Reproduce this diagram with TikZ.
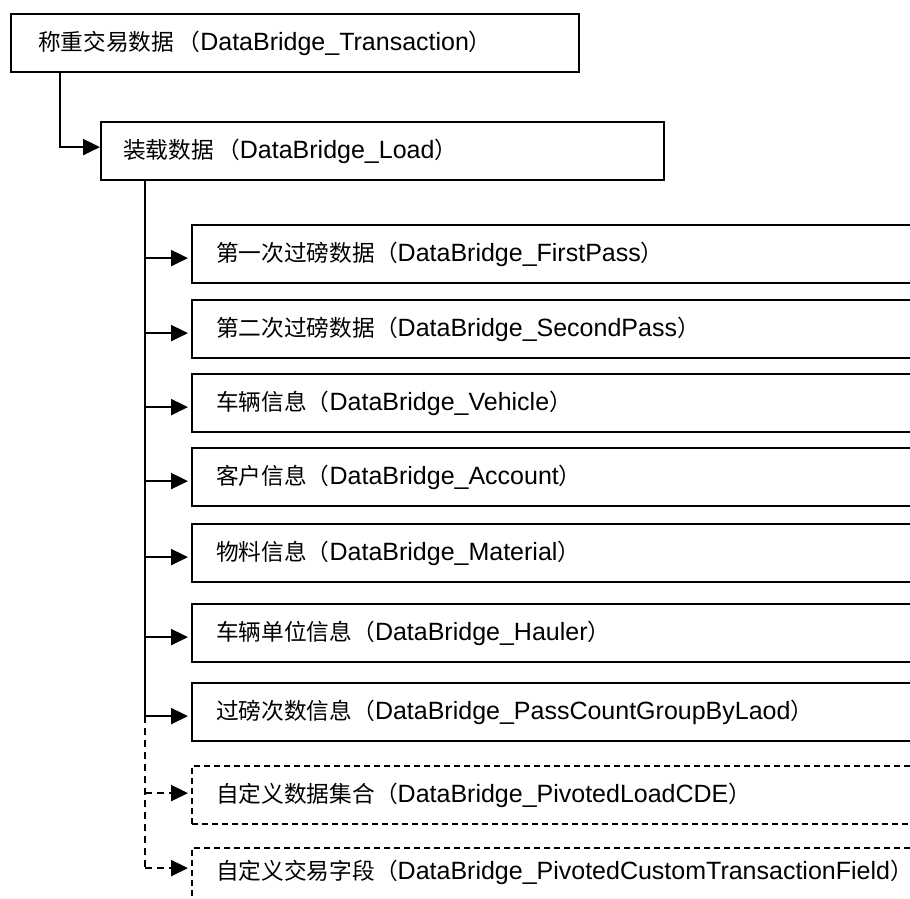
\documentclass[tikz,border=0pt]{standalone}
\usepackage{fontspec}
\setmainfont{Liberation Sans}
\newfontfamily\cjk{Noto Sans CJK SC}
\usetikzlibrary{arrows.meta}
\newcommand\lbl[3]{{\cjk\fontsize{22.7}{26}\selectfont #1}{\fontsize{25}{30}\selectfont #2}{\cjk\fontsize{22.7}{26}\selectfont #3}}
\tikzset{
  box/.style={draw, line width=2.2pt, rectangle, anchor=north west, minimum height=58pt, align=left, inner ysep=0pt},
  childbox/.style={box, text width=682pt, inner xsep=24pt},
  dbox/.style={childbox, dash pattern=on 6pt off 4pt},
  line/.style={line width=2.2pt},
  arr/.style={line, -{Triangle[length=17pt,width=16pt]}},
  darr/.style={arr, dash pattern=on 7pt off 5pt},
}
\begin{document}
\begin{tikzpicture}[x=1pt,y=-1pt]
\useasboundingbox (0,0) rectangle (910,899);
\clip (0,0) rectangle (910,899);
\fill[white] (0,0) rectangle (910,899);
\node[box, text width=514pt, inner xsep=27pt, text depth=5pt] (top) at (10,13) {\lbl{称重交易数据 （}{DataBridge\_Transaction}{）}};
\node[box, text width=519pt, inner xsep=22pt] (load) at (100,121) {\lbl{装载数据 （}{DataBridge\_Load}{）}};
\node[childbox] (c1) at (191,224) {\lbl{第一次过磅数据（}{DataBridge\_FirstPass}{）}};
\node[childbox] (c2) at (191,299) {\lbl{第二次过磅数据（}{DataBridge\_SecondPass}{）}};
\node[childbox] (c3) at (191,373) {\lbl{车辆信息（}{DataBridge\_Vehicle}{）}};
\node[childbox] (c4) at (191,447) {\lbl{客户信息（}{DataBridge\_Account}{）}};
\node[childbox] (c5) at (191,523) {\lbl{物料信息（}{DataBridge\_Material}{）}};
\node[childbox] (c6) at (191,603) {\lbl{车辆单位信息（}{DataBridge\_Hauler}{）}};
\node[childbox] (c7) at (191,682) {\lbl{过磅次数信息（}{DataBridge\_PassCountGroupByLaod}{）}};
\node[dbox] (c8) at (191,765) {\lbl{自定义数据集合（}{DataBridge\_PivotedLoadCDE}{）}};
\node[dbox, text depth=14pt] (c9) at (191,847) {\lbl{自定义交易字段（}{DataBridge\_PivotedCustomTransactionField}{）}};
% connector top -> load
\coordinate (t0) at ([xshift=50pt]top.south west);
\coordinate (l0) at ([yshift=4pt]load.west);
\draw[arr] (t0) |- (l0);
% trunk
\coordinate (tr) at ([xshift=45pt]load.south west);
\foreach \i in {1,...,7} {\coordinate (a\i) at ([yshift=-4pt]c\i.west);}
\coordinate (a8) at ([yshift=2pt]c8.west);
\coordinate (a9) at ([yshift=9pt]c9.west);
\draw[line] (tr) -- (tr |- a7);
\draw[line, dash pattern=on 7pt off 5pt] (tr |- a7) -- (tr |- a9);
\foreach \i in {1,...,7} {\draw[arr, shorten >=3pt] (tr |- a\i) -- (a\i);}
\foreach \i in {8,9} {\draw[darr, shorten >=3pt] (tr |- a\i) -- (a\i);}
\end{tikzpicture}
\end{document}
